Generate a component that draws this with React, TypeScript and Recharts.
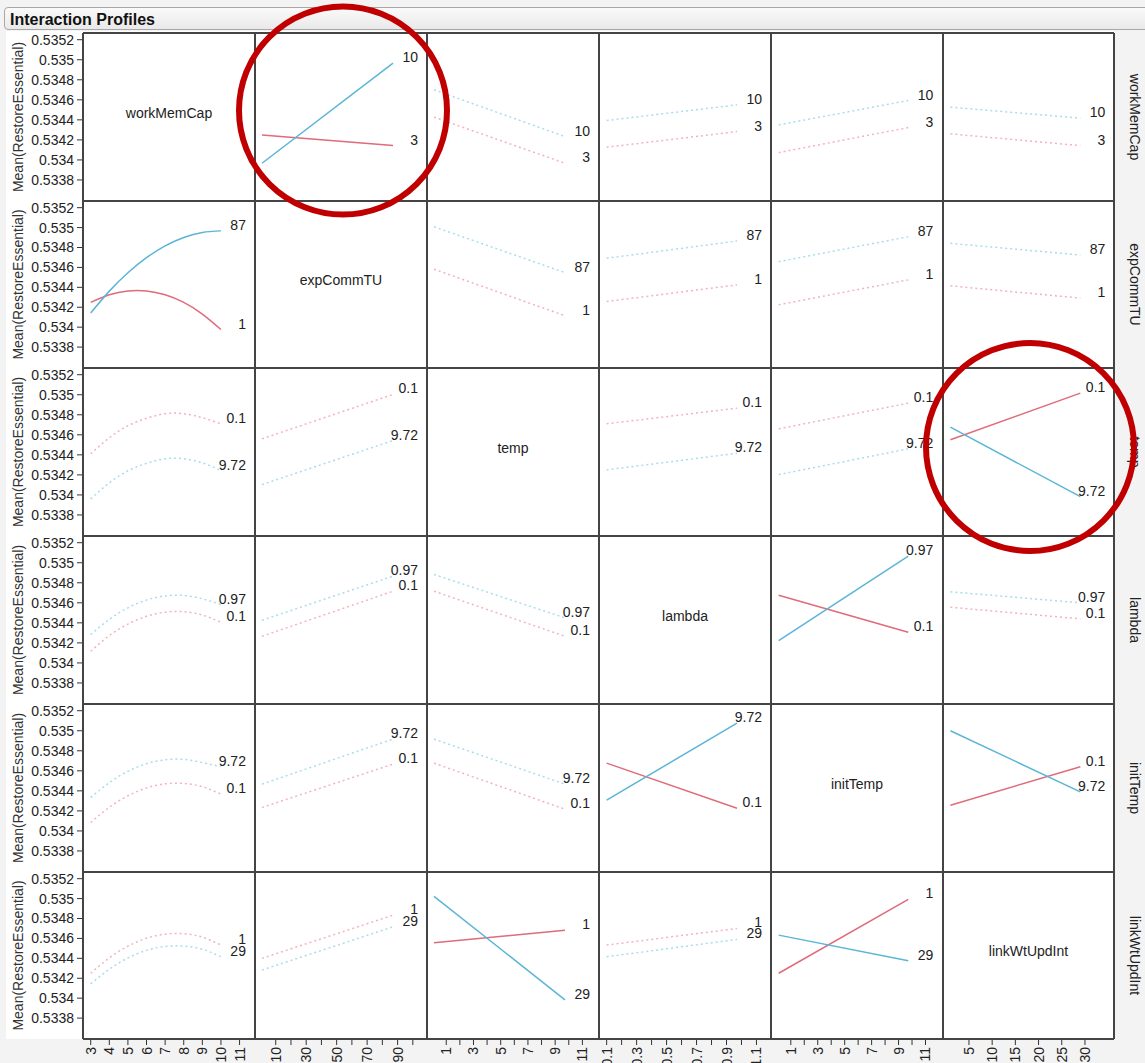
import { LineChart, Line, XAxis, YAxis, LabelList } from "recharts";

const factors = ["workMemCap", "expCommTU", "temp", "lambda", "initTemp", "linkWtUpdInt"];
const lowLevels = [3, 1, 0.1, 0.1, 0.1, 1];
const highLevels = [10, 87, 9.72, 0.97, 9.72, 29];
const lowLevelText = ["3", "1", "0.1", "0.1", "0.1", "1"];
const highLevelText = ["10", "87", "9.72", "0.97", "9.72", "29"];
// workMemCap is drawn as a curve through these settings
const workMemCapSteps = [3, 4, 5, 6, 7, 8, 9, 10];

const xDomains: [number, number][] = [
  [2.586, 11.83],
  [-3.6, 109.3],
  [-0.414, 12.22],
  [0.049, 1.197],
  [-0.47, 12.3],
  [-0.595, 36.26],
];
const xTicks = [
  [3, 4, 5, 6, 7, 8, 9, 10, 11],
  [10, 20, 30, 40, 50, 60, 70, 80, 90, 100],
  [1, 2, 3, 4, 5, 6, 7, 8, 9, 10, 11],
  [0.1, 0.2, 0.3, 0.4, 0.5, 0.6, 0.7, 0.8, 0.9, 1.0, 1.1],
  [1, 2, 3, 4, 5, 6, 7, 8, 9, 10, 11],
  [5, 10, 15, 20, 25, 30],
];
const xTickText = [
  ["3", "4", "5", "6", "7", "8", "9", "10", "11"],
  ["10", "", "30", "", "50", "", "70", "", "90", ""],
  ["1", "", "3", "", "5", "", "7", "", "9", "", "11"],
  ["0.1", "", "0.3", "", "0.5", "", "0.7", "", "0.9", "", "1.1"],
  ["1", "", "3", "", "5", "", "7", "", "9", "", "11"],
  ["5", "10", "15", "20", "25", "30"],
];
const yTicks = [0.5338, 0.534, 0.5342, 0.5344, 0.5346, 0.5348, 0.535, 0.5352];
const yDomain: [number, number] = [0.53359, 0.535267];

// interactions drawn as solid lines (row-col)
const solidCells = ["0-1", "1-0", "2-5", "3-4", "4-3", "4-5", "5-2", "5-4"];

// Mean(RestoreEssential) per row factor, low level (red) and high level (blue), one entry per column factor
const workMemCapLow = [null, [0.53425, 0.534143], [0.534427, 0.533967], [0.534127, 0.534283], [0.534073, 0.534323], [0.53426, 0.534143]];
const workMemCapHigh = [null, [0.533967, 0.534967], [0.5347, 0.534233], [0.534393, 0.53455], [0.53435, 0.534593], [0.534527, 0.534417]];

const expCommTULow = [
  [0.534249, 0.534325, 0.534364, 0.534364, 0.534325, 0.534249, 0.534132, 0.533976],
  null, [0.534582, 0.534115], [0.534258, 0.534425], [0.534225, 0.534475], [0.534415, 0.534292],
];
const expCommTUHigh = [
  [0.534142, 0.534362, 0.534547, 0.534698, 0.534816, 0.534901, 0.534951, 0.534967],
  null, [0.535008, 0.534548], [0.534692, 0.534865], [0.534658, 0.534908], [0.534842, 0.534725],
];

const tempLow = [
  [0.53441, 0.534571, 0.534691, 0.534765, 0.534811, 0.534811, 0.534771, 0.53471],
  [0.53456, 0.535003], null, [0.53471, 0.534866], [0.53466, 0.534916], [0.53455, 0.535016],
];
const tempHigh = [
  [0.53396, 0.534121, 0.534241, 0.534315, 0.534361, 0.534361, 0.534321, 0.534243],
  [0.534103, 0.534543], null, [0.53425, 0.534416], [0.534203, 0.53446], [0.534676, 0.533983],
];

const lambdaLow = [
  [0.534116, 0.534273, 0.534388, 0.534466, 0.534507, 0.534511, 0.534478, 0.534406],
  [0.534266, 0.534716], [0.534716, 0.534266], null, [0.534676, 0.534306], [0.534556, 0.53444],
];
const lambdaHigh = [
  [0.534283, 0.534435, 0.53455, 0.534628, 0.534669, 0.534673, 0.53464, 0.534583],
  [0.534426, 0.534866], [0.534883, 0.53445], null, [0.534223, 0.535066], [0.53471, 0.5346],
];

const initTempLow = [
  [0.534084, 0.534236, 0.534351, 0.534429, 0.53447, 0.534474, 0.534441, 0.534367],
  [0.534234, 0.534667], [0.534677, 0.534217], [0.534677, 0.534227], null, [0.534257, 0.53464],
];
const initTempHigh = [
  [0.534334, 0.534482, 0.534595, 0.534671, 0.53471, 0.534714, 0.534682, 0.534642],
  [0.534467, 0.534917], [0.534917, 0.534467], [0.534307, 0.535077], null, [0.535, 0.53439],
];

const linkWtUpdIntLow = [
  [0.53425, 0.534405, 0.534522, 0.534602, 0.534643, 0.534647, 0.534613, 0.534533],
  [0.5344, 0.534833], [0.534556, 0.534683], [0.534533, 0.5347], [0.53425, 0.534993], null,
];
const linkWtUpdIntHigh = [
  [0.534143, 0.534291, 0.534404, 0.53448, 0.534519, 0.534523, 0.534491, 0.534416],
  [0.534283, 0.534716], [0.535023, 0.533983], [0.534416, 0.53459], [0.534633, 0.534376], null,
];

const lowMeans = [workMemCapLow, expCommTULow, tempLow, lambdaLow, initTempLow, linkWtUpdIntLow];
const highMeans = [workMemCapHigh, expCommTUHigh, tempHigh, lambdaHigh, initTempHigh, linkWtUpdIntHigh];

const colEdges = [83, 255, 427, 599, 771, 943, 1114];
const rowEdges = [33, 201, 368, 536, 704, 872, 1039];
const Y_AXIS_W = 83;
const X_AXIS_H = 30;

const RED = "#df6b7b";
const BLUE = "#5bb5d6";
const RED_FADED = "#f3b2be";
const BLUE_FADED = "#a9dcee";
const FONT = "'Liberation Sans', Arial, sans-serif";

function cellData(row: number, col: number) {
  const xs = col === 0 ? workMemCapSteps : [lowLevels[col], highLevels[col]];
  const lo = lowMeans[row][col];
  const hi = highMeans[row][col];
  return xs.map((x, i) => ({ x, low: lo ? lo[i] : undefined, high: hi ? hi[i] : undefined }));
}

function endLabel(text: string, last: number) {
  return (props: any) => {
    if (props.index !== last) return null;
    const x = props.x ?? props.viewBox?.x;
    const y = props.y ?? props.viewBox?.y;
    return (
      <text x={x + 25} y={y - 6} textAnchor="end" dominantBaseline="central" fontSize={14} fill="#222" fontFamily={FONT}>
        {text}
      </text>
    );
  };
}

function makeXTick(col: number) {
  return (props: any) => {
    const { x, y, payload } = props;
    const i = xTicks[col].indexOf(payload.value);
    const text = i >= 0 ? xTickText[col][i] : "";
    if (!text) return <g />;
    return (
      <text x={x} y={y} transform={`rotate(-90 ${x} ${y})`} textAnchor="end" dominantBaseline="central" fontSize={14} fill="#222" fontFamily={FONT}>
        {text}
      </text>
    );
  };
}

function Cell({ row, col }: { row: number; col: number }) {
  const isLeft = col === 0;
  const isBottom = row === 5;
  const left = isLeft ? 0 : colEdges[col];
  const top = rowEdges[row];
  const plotH = rowEdges[row + 1] - rowEdges[row];
  const width = colEdges[col + 1] - left;
  const height = plotH + (isBottom ? X_AXIS_H : 0);
  const data = cellData(row, col);
  const diag = row === col;
  const solid = solidCells.includes(`${row}-${col}`);
  const last = data.length - 1;
  const type = col === 0 ? "natural" : "linear";

  const yLabel = (props: any) => {
    const vb = props.viewBox;
    const cy = vb && vb.height ? vb.y + vb.height / 2 : plotH / 2;
    return (
      <text x={18} y={cy} transform={`rotate(-90 18 ${cy})`} textAnchor="middle" dominantBaseline="central" fontSize={14} fill="#333" fontFamily={FONT}>
        Mean(RestoreEssential)
      </text>
    );
  };

  return (
    <div style={{ position: "absolute", left, top }}>
      <LineChart width={width} height={height} data={data} margin={{ top: 0, right: 0, bottom: 0, left: 0 }}>
        <XAxis
          type="number"
          dataKey="x"
          domain={xDomains[col]}
          allowDataOverflow
          ticks={xTicks[col]}
          interval={0}
          hide={!isBottom}
          height={X_AXIS_H}
          axisLine={false}
          tickLine={{ stroke: "#333" }}
          tickSize={6}
          tickMargin={2}
          tick={makeXTick(col)}
        />
        <YAxis
          type="number"
          domain={yDomain}
          allowDataOverflow
          ticks={yTicks}
          interval={0}
          hide={!isLeft}
          width={Y_AXIS_W}
          axisLine={false}
          tickLine={{ stroke: "#333" }}
          tickSize={6}
          tickMargin={3}
          tick={{ fontSize: 14, fill: "#222", fontFamily: FONT }}
          tickFormatter={(v: number) => String(v)}
          label={yLabel}
        />
        {!diag && (
          <Line
            dataKey="low"
            type={type}
            stroke={solid ? RED : RED_FADED}
            strokeWidth={1.5}
            strokeDasharray={solid ? undefined : "2 3"}
            dot={false}
            activeDot={false}
            isAnimationActive={false}
          >
            <LabelList dataKey="low" content={endLabel(lowLevelText[row], last)} />
          </Line>
        )}
        {!diag && (
          <Line
            dataKey="high"
            type={type}
            stroke={solid ? BLUE : BLUE_FADED}
            strokeWidth={1.5}
            strokeDasharray={solid ? undefined : "2 3"}
            dot={false}
            activeDot={false}
            isAnimationActive={false}
          >
            <LabelList dataKey="high" content={endLabel(highLevelText[row], last)} />
          </Line>
        )}
      </LineChart>
    </div>
  );
}

export default function App() {
  const idx = [0, 1, 2, 3, 4, 5];
  return (
    <div
      style={{
        position: "absolute",
        left: 0,
        top: 0,
        width: 1145,
        height: 1063,
        overflow: "hidden",
        background: "#f3f3f3",
        fontFamily: FONT,
      }}
    >
      <div style={{ position: "absolute", left: 6, top: 31, width: 1108, height: 1008, background: "#fff" }} />
      <div
        style={{
          position: "absolute",
          left: 4,
          top: 7,
          width: 1160,
          height: 23,
          border: "1px solid #a8a8a8",
          borderRadius: 4,
          background: "linear-gradient(#fafafa, #e9e9e9)",
          fontWeight: "bold",
          fontSize: 16,
          lineHeight: "23px",
          paddingLeft: 5,
          color: "#111",
          boxSizing: "border-box",
        }}
      >
        Interaction Profiles
      </div>
      {idx.map((r) => idx.map((c) => <Cell key={`${r}-${c}`} row={r} col={c} />))}
      <svg width={1145} height={1063} style={{ position: "absolute", left: 0, top: 0, pointerEvents: "none" }}>
        {colEdges.map((x) => (
          <line key={`v${x}`} x1={x} x2={x} y1={rowEdges[0]} y2={rowEdges[6]} stroke="#444" strokeWidth={2} />
        ))}
        {rowEdges.map((y) => (
          <line key={`h${y}`} x1={colEdges[0]} x2={colEdges[6]} y1={y} y2={y} stroke="#444" strokeWidth={2} />
        ))}
        {factors.map((f, i) => {
          const cx = (colEdges[i] + colEdges[i + 1]) / 2;
          const cy = (rowEdges[i] + rowEdges[i + 1]) / 2 - 4.5;
          return (
            <text key={`d${f}`} x={cx} y={cy} textAnchor="middle" dominantBaseline="central" fontSize={14} fill="#222" fontFamily={FONT}>
              {f}
            </text>
          );
        })}
        {factors.map((f, i) => {
          const cy = (rowEdges[i] + rowEdges[i + 1]) / 2;
          return (
            <text
              key={`r${f}`}
              x={1135}
              y={cy}
              transform={`rotate(90 1135 ${cy})`}
              textAnchor="middle"
              dominantBaseline="central"
              fontSize={14}
              fill="#222"
              fontFamily={FONT}
            >
              {f}
            </text>
          );
        })}
        <circle cx={343} cy={110.5} r={104} fill="none" stroke="#c00000" strokeWidth={6} />
        <circle cx={1030} cy={447} r={104} fill="none" stroke="#c00000" strokeWidth={6} />
      </svg>
    </div>
  );
}
